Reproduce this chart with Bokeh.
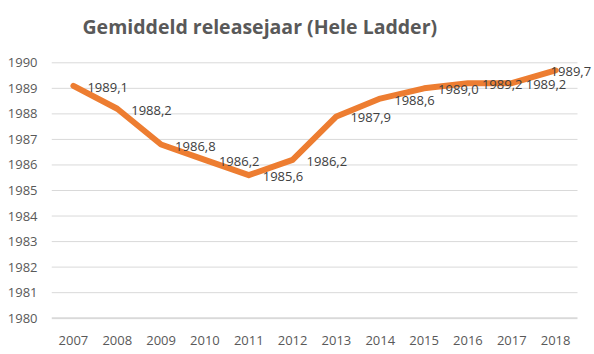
from bokeh.plotting import figure
from bokeh.models import ColumnDataSource, Range1d, FixedTicker
from bokeh.core.properties import value
from bokeh.embed import file_html
from bokeh.resources import INLINE

years = ["2007", "2008", "2009", "2010", "2011", "2012", "2013", "2014", "2015", "2016", "2017", "2018"]
avg_release_year = [1989.1, 1988.2, 1986.8, 1986.2, 1985.6, 1986.2, 1987.9, 1988.6, 1989.0, 1989.2, 1989.2, 1989.7]
y_ticks = [1980, 1981, 1982, 1983, 1984, 1985, 1986, 1987, 1988, 1989, 1990]
title_text = "Gemiddeld releasejaar (Hele Ladder)"

# ---- layout geometry (pixels) ----
W, H = 594, 354
frame_left, cat_right = 51, 577          # plot area (category band) in px
grid_top_px, grid_bot_px = 62.3, 317.7   # y of top / bottom gridline
bottom_border = 35
n = len(years)
px_per_cat = (cat_right - frame_left) / n
px_per_unit = (grid_bot_px - grid_top_px) / (y_ticks[-1] - y_ticks[0])

xs = list(range(n))
x_lo, x_hi = -0.5, n - 0.5
x_end = x_hi + (W - cat_right) / px_per_cat
y_start = y_ticks[0] - (H - bottom_border - grid_bot_px) / px_per_unit
y_end = y_ticks[-1] + grid_top_px / px_per_unit

labels = [f"{v:.1f}".replace(".", ",") for v in avg_release_year]
# Excel-style "right" label placement; last label nudged to stay inside the chart
x_offsets = [14] * (n - 1) + [-5]
src = ColumnDataSource(dict(x=xs, y=avg_release_year, lab=labels, xo=x_offsets))

p = figure(width=W, height=H,
           x_range=Range1d(x_lo, x_end), y_range=Range1d(y_start, y_end),
           output_backend="svg", toolbar_location=None,
           min_border_left=frame_left, min_border_right=0, min_border_top=0,
           min_border_bottom=bottom_border)
p.outline_line_color = None
p.background_fill_color = "white"
p.border_fill_color = "white"
p.xgrid.grid_line_color = None
p.ygrid.grid_line_color = None

# title (placed in pixel terms, converted to data space)
title_x = x_lo + (82 - frame_left) / px_per_cat
title_y = y_ticks[-1] + (grid_top_px - 26) / px_per_unit
p.text(x=[title_x], y=[title_y], text=[title_text], text_font=value("Open Sans"),
       text_font_style="bold", text_font_size="19.5px", text_color="#595959",
       text_align="left", text_baseline="middle")

# horizontal gridlines, spanning only the category area
p.segment(x0=[x_lo] * (len(y_ticks) - 1), x1=[x_hi] * (len(y_ticks) - 1),
          y0=y_ticks[1:], y1=y_ticks[1:], line_color="#D9D9D9", line_width=1)
# category axis line at the bottom
p.segment(x0=[x_lo], x1=[x_hi], y0=[y_ticks[0]], y1=[y_ticks[0]],
          line_color="#D9D9D9", line_width=2)

p.yaxis.ticker = FixedTicker(ticks=y_ticks)
p.yaxis.axis_line_color = None
p.yaxis.major_tick_line_color = None
p.yaxis.minor_tick_line_color = None
p.yaxis.major_label_text_font = "Open Sans"
p.yaxis.major_label_text_font_size = "13px"
p.yaxis.major_label_text_color = "#595959"
p.yaxis.major_label_standoff = 8

p.xaxis.ticker = FixedTicker(ticks=xs)
p.xaxis.major_label_overrides = {i: y for i, y in zip(xs, years)}
p.xaxis.axis_line_color = None
p.xaxis.major_tick_line_color = None
p.xaxis.minor_tick_line_color = None
p.xaxis.major_label_text_font = "Open Sans"
p.xaxis.major_label_text_font_size = "13px"
p.xaxis.major_label_text_color = "#595959"
p.xaxis.major_label_standoff = 10

p.line("x", "y", source=src, line_color="#ED7D31", line_width=6,
       line_join="round", line_cap="round")

p.text("x", "y", text="lab", source=src, x_offset="xo", y_offset=1.5,
       text_font=value("Open Sans"), text_font_size="13px", text_color="#404040",
       text_align="left", text_baseline="middle")

open("out.html", "w").write(file_html(p, INLINE))
